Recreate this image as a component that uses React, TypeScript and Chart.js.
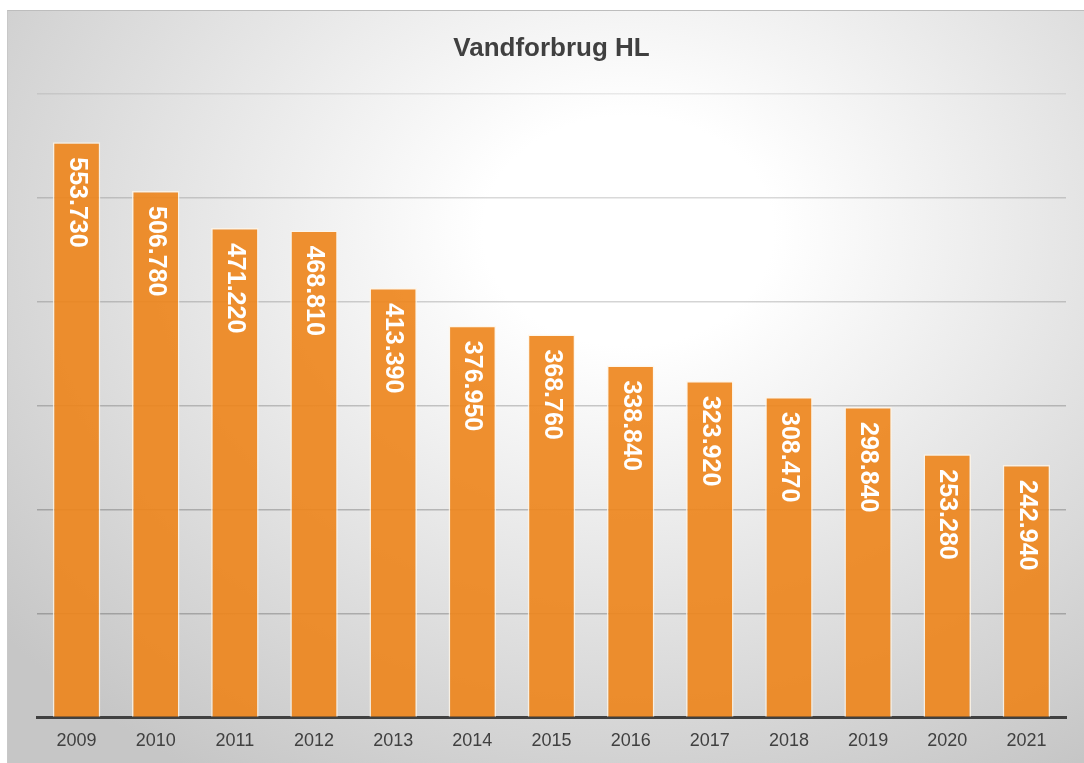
import React, { useEffect, useRef } from "react";
import { Chart, registerables } from "chart.js";

Chart.register(...registerables);

const years = ["2009", "2010", "2011", "2012", "2013", "2014", "2015", "2016", "2017", "2018", "2019", "2020", "2021"];
const consumption = [553730, 506780, 471220, 468810, 413390, 376950, 368760, 338840, 323920, 308470, 298840, 253280, 242940];
const chartTitle = "Vandforbrug HL";

function fmt(v: number): string {
  return String(v).replace(/\B(?=(\d{3})+(?!\d))/g, ".");
}

const gridAlpha = [0, 0.22, 0.22, 0.2, 0.17, 0.15, 0.08];

const valueLabels = {
  id: "valueLabels",
  afterDatasetsDraw(chart: any) {
    const ctx = chart.ctx;
    const meta = chart.getDatasetMeta(0);
    ctx.save();
    ctx.fillStyle = "#ffffff";
    ctx.font = "bold 25px 'Liberation Sans', Arial, sans-serif";
    ctx.textAlign = "left";
    ctx.textBaseline = "middle";
    meta.data.forEach((bar: any, i: number) => {
      ctx.save();
      ctx.translate(bar.x, bar.y + 15);
      ctx.rotate(Math.PI / 2);
      ctx.fillText(fmt(consumption[i]), 0, 0);
      ctx.restore();
    });
    ctx.restore();
  },
};

export default function App() {
  const ref = useRef<HTMLCanvasElement | null>(null);
  useEffect(() => {
    if (!ref.current) return;
    const chart = new Chart(ref.current, {
      type: "bar",
      data: {
        labels: years,
        datasets: [
          {
            data: consumption,
            backgroundColor: "rgba(237,132,26,0.9)",
            borderColor: "rgba(255,245,230,0.8)",
            borderWidth: 1.5,
            categoryPercentage: 1,
            barPercentage: 0.6,
          },
        ],
      },
      options: {
        animation: false,
        responsive: false,
        maintainAspectRatio: false,
        layout: { padding: { left: 30, right: 18, top: 0, bottom: 0 } },
        plugins: {
          legend: { display: false },
          tooltip: { enabled: false },
          title: {
            display: true,
            text: chartTitle,
            color: "#404040",
            font: { family: "'Liberation Sans', Arial, sans-serif", size: 26, weight: "bold" },
            padding: { top: 23, bottom: 30 },
          },
        },
        scales: {
          x: {
            grid: { display: false, drawTicks: false },
            border: { display: true, color: "#404040", width: 3 },
            ticks: {
              color: "#404040",
              font: { family: "'Liberation Sans', Arial, sans-serif", size: 18 },
              padding: 13,
            },
          },
          y: {
            min: 0,
            max: 600000,
            ticks: { display: false, stepSize: 100000 },
            border: { display: false },
            grid: {
              drawTicks: false,
              lineWidth: 1.5,
              color: (c: any) => `rgba(0,0,0,${gridAlpha[c.index] ?? 0.2})`,
            },
          },
        },
      },
      plugins: [valueLabels],
    });
    return () => chart.destroy();
  }, []);

  return (
    <div style={{ position: "fixed", left: 0, top: 0, width: 1084, height: 763, background: "#ffffff", overflow: "hidden" }}>
      <div
        style={{
          position: "absolute",
          left: 7,
          top: 10,
          width: 1077,
          height: 753,
          borderTop: "1px solid #bdbdbd",
          borderLeft: "1px solid #c8c8c8",
          boxSizing: "border-box",
          background: "radial-gradient(ellipse 75% 85% at 620px 220px, #ffffff 0%, #ffffff 18%, #c6c6c6 100%)",
        }}
      />
      <canvas ref={ref} width={1077} height={755} style={{ position: "absolute", left: 7, top: 10, width: 1077, height: 755 }} />
    </div>
  );
}
